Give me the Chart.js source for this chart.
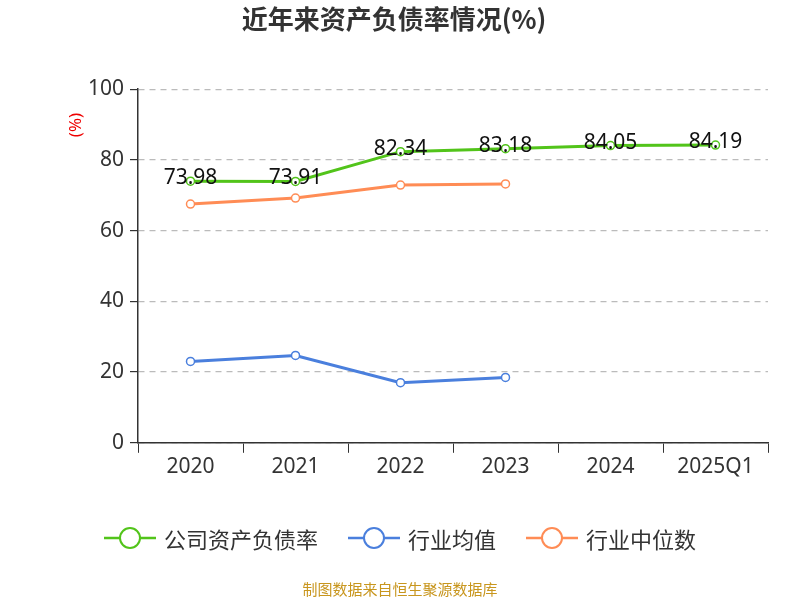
<!DOCTYPE html>
<html><head><meta charset="utf-8">
<script src="https://cdn.jsdelivr.net/npm/chart.js@4"></script>
<style>
body{margin:0;width:800px;height:600px;position:relative;font-family:"Noto Sans CJK SC","Noto Sans",sans-serif;background:#fff}
#c{position:absolute;left:0;top:0}
.leg{position:absolute;top:522px;left:0;width:800px;display:flex;justify-content:center;gap:30px;font-size:22px;color:#333}
.it{display:flex;align-items:center;gap:8px}
.src{position:absolute;top:578px;width:800px;text-align:center;font-size:15px;color:#c8961e}
</style></head><body>
<canvas id="c" width="800" height="600"></canvas>
<div class="leg">
<div class="it"><svg width="52" height="24"><line x1="0" y1="12" x2="52" y2="12" stroke="#52c41a" stroke-width="2.5"/><circle cx="26" cy="12" r="10" fill="#fff" stroke="#52c41a" stroke-width="2"/></svg>公司资产负债率</div>
<div class="it"><svg width="52" height="24"><line x1="0" y1="12" x2="52" y2="12" stroke="#4a7fdd" stroke-width="2.5"/><circle cx="26" cy="12" r="10" fill="#fff" stroke="#4a7fdd" stroke-width="2"/></svg>行业均值</div>
<div class="it"><svg width="52" height="24"><line x1="0" y1="12" x2="52" y2="12" stroke="#ff8c55" stroke-width="2.5"/><circle cx="26" cy="12" r="10" fill="#fff" stroke="#ff8c55" stroke-width="2"/></svg>行业中位数</div>
</div>
<div class="src">制图数据来自恒生聚源数据库</div>
<script>
const categories=["2020","2021","2022","2023","2024","2025Q1"];
const companyRatio=[73.98,73.91,82.34,83.18,84.05,84.19];
const industryMean=[23.0,24.7,17.0,18.5,null,null];
const industryMedian=[67.5,69.2,72.9,73.2,null,null];
const yTicks=[0,20,40,60,80,100];

const labelPlugin={id:'lbl',afterDatasetsDraw(ch){
 const ctx=ch.ctx;const m=ch.getDatasetMeta(0);
 ctx.save();ctx.font='21px "Noto Sans","DejaVu Sans",sans-serif';ctx.fillStyle='#111';ctx.textAlign='center';ctx.textBaseline='middle';
 m.data.forEach((p,i)=>ctx.fillText(companyRatio[i].toFixed(2),p.x,p.y-3));
 ctx.translate(76,125);ctx.rotate(-Math.PI/2);ctx.fillStyle='#e00';ctx.font='17px "Noto Sans",sans-serif';ctx.fillText('(%)',0,0);
 ctx.restore();}};
const ds=(d,c)=>({data:d,borderColor:c,backgroundColor:'#fff',borderWidth:3,pointRadius:4,pointBorderWidth:1.5,pointBackgroundColor:'#fff',pointBorderColor:c,tension:0});
new Chart(document.getElementById('c'),{type:'line',
data:{labels:categories,datasets:[ds(companyRatio,'#52c41a'),ds(industryMean,'#4a7fdd'),ds(industryMedian,'#ff8c55')]},
plugins:[labelPlugin],
options:{responsive:false,animation:false,layout:{padding:{left:20,right:32,top:0,bottom:118}},
plugins:{legend:{display:false},tooltip:{enabled:false},
 title:{display:true,text:'近年来资产负债率情况(%)',font:{size:26,weight:'bold',family:'"Noto Sans CJK SC"'},color:'#333',padding:{top:4,bottom:54}}},
scales:{
 x:{offset:true,grid:{display:true,drawOnChartArea:false,offset:true,tickLength:10,tickColor:'#333'},border:{color:'#333',width:1.5},
  ticks:{color:'#333',font:{size:21,family:'"Noto Sans"'},padding:2}},
 y:{min:0,max:100,afterBuildTicks:a=>{a.ticks=yTicks.map(v=>({value:v}));},afterFit:a=>{a.width=118;},
  border:{color:'#333',width:1.5,dash:[6,5]},
  grid:{color:'#bbb',lineWidth:1.2,tickLength:8,tickColor:'#333'},
  ticks:{color:'#333',font:{size:21,family:'"Noto Sans"'},padding:6}}
}}});
</script></body></html>
